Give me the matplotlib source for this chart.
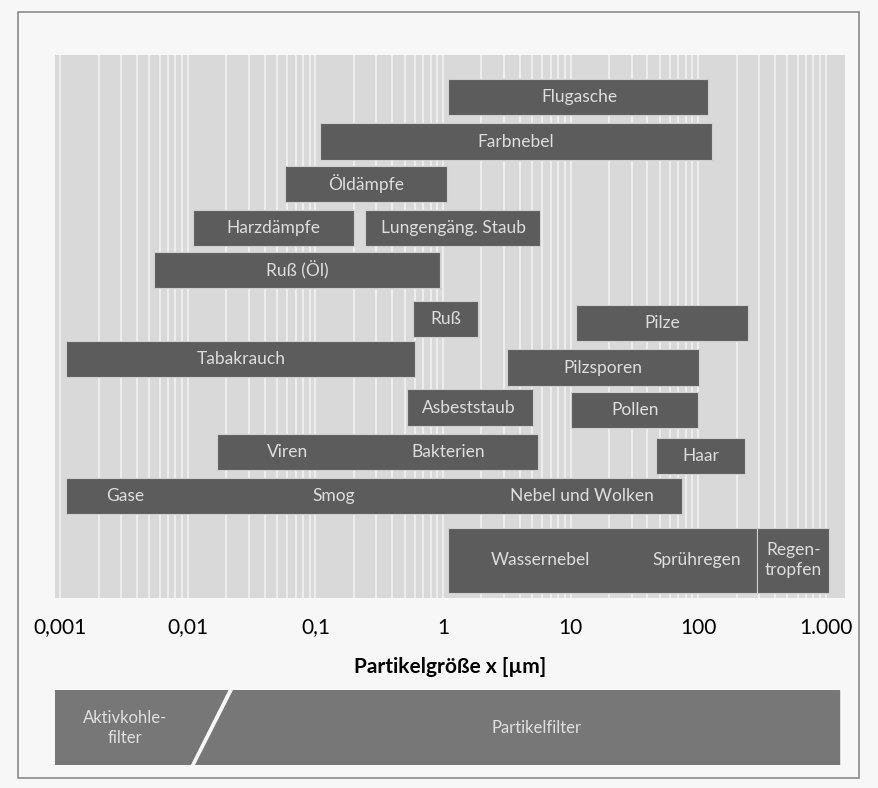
import matplotlib.pyplot as plt
from matplotlib.patches import Rectangle
from matplotlib.ticker import FixedLocator, LogLocator, NullFormatter

plt.rcParams['font.family'] = ['Lato', 'DejaVu Sans']

# particle size ranges in µm
bar_start = [1.1, 0.108, 0.058, 0.011, 0.245, 0.0054, 0.58, 11, 0.0011, 3.2,
             0.52, 10, 0.017, 47, 0.0011, 1.1, 290]
bar_end = [120, 129, 1.07, 0.2, 5.8, 0.95, 1.88, 246, 0.6, 101,
           5.1, 100, 5.6, 233, 75, 290, 1050]
bar_row = [0, 1.0, 1.95, 2.95, 2.95, 3.9, 5.0, 5.1, 5.9, 6.1,
           7.0, 7.05, 8.0, 8.1, 9.0, 10.45, 10.45]
bar_size = [0.82] * 15 + [1.45, 1.45]

label_text = ['Flugasche', 'Farbnebel', 'Öldämpfe', 'Harzdämpfe', 'Lungengäng. Staub',
              'Ruß (Öl)', 'Ruß', 'Pilze', 'Tabakrauch', 'Pilzsporen', 'Asbeststaub',
              'Pollen', 'Viren', 'Bakterien', 'Haar', 'Gase', 'Smog', 'Nebel und Wolken',
              'Wassernebel', 'Sprühregen', 'Regen-\ntropfen']
label_x = [11.7, 3.7, 0.25, 0.047, 1.2, 0.072, 1.05, 52, 0.026, 18, 1.6,
           32, 0.061, 1.09, 105, 0.0032, 0.14, 12.3, 5.8, 98, 560]
label_row = [0, 1.0, 1.95, 2.95, 2.95, 3.9, 5.0, 5.1, 5.9, 6.1, 7.0,
             7.05, 8.0, 8.0, 8.1, 9.0, 9.0, 9.0, 10.45, 10.45, 10.45]

tick_vals = [0.001, 0.01, 0.1, 1, 10, 100, 1000]
tick_text = ['0,001', '0,01', '0,1', '1', '10', '100', '1.000']

# filter ranges (bottom strip), slanted border between them
aktiv_x = [0.00083, 0.0205, 0.0104, 0.00083]
partikel_x = [0.0225, 1260, 1260, 0.0114]
strip_y = [1, 1, 0, 0]

fig = plt.figure(figsize=(8.79, 7.88), dpi=100)
fig.patch.set_facecolor('#f7f7f7')
fig.patches.append(Rectangle((0.02, 0.013), 0.957, 0.972, transform=fig.transFigure,
                             fill=False, edgecolor='#8a8a8a', linewidth=1.2))

ax = fig.add_axes([0.0626, 0.241, 0.899, 0.689])
ax.set_xscale('log')
ax.set_xlim(0.00091, 1420)
ax.set_ylim(11.3, -0.95)
ax.set_facecolor('#d9d9d9')
ax.xaxis.set_minor_locator(LogLocator(base=10, subs=range(2, 10)))
ax.xaxis.set_minor_formatter(NullFormatter())
ax.grid(True, which='both', axis='x', color='white', linewidth=1.3, alpha=0.6)
ax.set_axisbelow(True)

ax.barh(bar_row, [e - s for s, e in zip(bar_start, bar_end)], left=bar_start,
        height=bar_size, color='#5c5c5c', edgecolor='#d0d0d0', linewidth=0.8)

for t, x, r in zip(label_text, label_x, label_row):
    ax.text(x, r, t, ha='center', va='center', color='#dedede', fontsize=12.5,
            linespacing=1.3)

ax.xaxis.set_major_locator(FixedLocator(tick_vals))
ax.set_xticklabels(tick_text, fontsize=15)
ax.tick_params(axis='x', which='both', length=0, pad=14)
ax.set_yticks([])
for s in ax.spines.values():
    s.set_visible(False)
ax.set_xlabel('Partikelgröße x [µm]', fontsize=15, fontweight='bold', labelpad=14)

# filter strip
fx = fig.add_axes([0.0626, 0.029, 0.899, 0.095], sharex=ax)
fx.set_ylim(0, 1)
fx.fill(aktiv_x, strip_y, color='#777777')
fx.fill(partikel_x, strip_y, color='#777777')
fx.text(0.0032, 0.5, 'Aktivkohle-\nfilter', ha='center', va='center', color='#e0e0e0',
        fontsize=12, linespacing=1.3)
fx.text(5.4, 0.5, 'Partikelfilter', ha='center', va='center', color='#e0e0e0', fontsize=12)
fx.axis('off')

fig.savefig('out.png', dpi=100, facecolor=fig.get_facecolor())
